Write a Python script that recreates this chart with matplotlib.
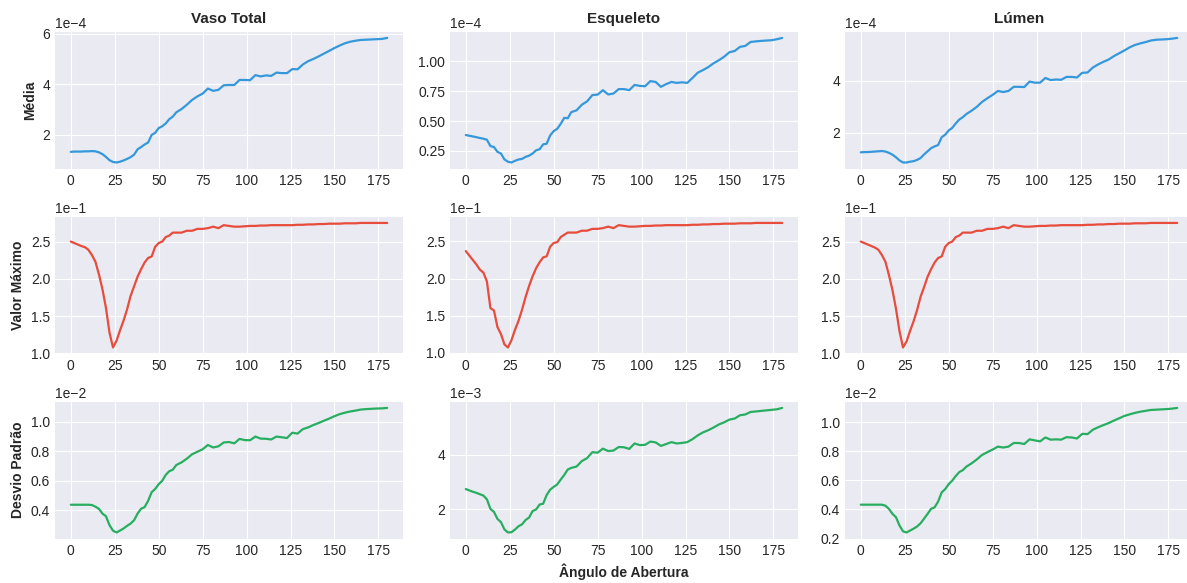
import matplotlib
matplotlib.use("Agg")
import matplotlib.pyplot as plt
from matplotlib.ticker import MaxNLocator
import numpy as np

# Opening angle grid (degrees): finer sampling where the curves dip
angles = [0, 2, 4, 6, 8, 10, 12, 14, 16, 18, 20, 22, 24, 26, 28, 30, 32, 34, 36, 38,
          40, 42, 44, 46, 48, 50, 52, 54, 56, 58,
          60, 63, 66, 69, 72, 75, 78, 81, 84, 87, 90, 93, 96, 99, 102, 105, 108, 111,
          114, 117, 120, 123, 126, 129, 132, 135, 138, 141, 144, 147, 150, 153, 156,
          159, 162, 165, 168, 171, 174, 177, 180]

# Mean (x 1e-4)
media_vaso = [1.33, 1.34, 1.34, 1.34, 1.35, 1.35, 1.36, 1.35, 1.31, 1.24, 1.13, 1.00, 0.93,
              0.91, 0.94, 0.99, 1.05, 1.12, 1.22, 1.43, 1.52, 1.62, 1.70, 2.00, 2.08, 2.27,
              2.34, 2.45, 2.62, 2.72,
              2.89, 3.02, 3.19, 3.38, 3.52, 3.63, 3.83, 3.74, 3.78, 3.96, 3.97, 3.97, 4.17,
              4.17, 4.16, 4.36, 4.31, 4.35, 4.33, 4.46, 4.44, 4.44, 4.60, 4.59, 4.78, 4.91,
              5.00, 5.10, 5.21, 5.32, 5.43, 5.53, 5.62, 5.68, 5.72, 5.75, 5.76, 5.77, 5.78,
              5.79, 5.83]
media_esqueleto = [0.383, 0.377, 0.371, 0.365, 0.358, 0.352, 0.344, 0.290, 0.283, 0.242,
                   0.228, 0.178, 0.159, 0.153, 0.167, 0.178, 0.183, 0.200, 0.210, 0.228,
                   0.255, 0.264, 0.305, 0.310, 0.380, 0.416, 0.435, 0.477, 0.527, 0.524,
                   0.575, 0.590, 0.637, 0.665, 0.718, 0.722, 0.759, 0.723, 0.731, 0.768,
                   0.768, 0.759, 0.803, 0.795, 0.792, 0.835, 0.828, 0.787, 0.810, 0.828,
                   0.820, 0.825, 0.820, 0.862, 0.906, 0.928, 0.953, 0.985, 1.010, 1.040,
                   1.077, 1.088, 1.122, 1.130, 1.163, 1.168, 1.172, 1.175, 1.178, 1.186,
                   1.197]
media_lumen = [1.24, 1.25, 1.25, 1.26, 1.27, 1.28, 1.29, 1.27, 1.22, 1.15, 1.05, 0.93, 0.85,
               0.85, 0.88, 0.90, 0.95, 1.02, 1.16, 1.28, 1.40, 1.47, 1.52, 1.82, 1.92, 2.08,
               2.18, 2.35, 2.50, 2.59,
               2.71, 2.84, 2.99, 3.18, 3.32, 3.45, 3.60, 3.56, 3.60, 3.76, 3.76, 3.75, 3.96,
               3.92, 3.92, 4.10, 4.02, 4.04, 4.03, 4.14, 4.14, 4.12, 4.30, 4.31, 4.50, 4.62,
               4.72, 4.81, 4.94, 5.05, 5.16, 5.28, 5.37, 5.43, 5.48, 5.54, 5.57, 5.58, 5.59,
               5.61, 5.64]

# Maximum value (x 1e-1)
max_vaso = [2.50, 2.48, 2.46, 2.44, 2.425, 2.39, 2.32, 2.23, 2.06, 1.86, 1.61, 1.28, 1.08,
            1.17, 1.31, 1.44, 1.59, 1.77, 1.90, 2.03, 2.13, 2.22, 2.28, 2.30, 2.43, 2.48,
            2.50, 2.56, 2.58, 2.62,
            2.62, 2.62, 2.645, 2.645, 2.67, 2.67, 2.68, 2.70, 2.68, 2.72, 2.71, 2.70, 2.70,
            2.705, 2.71, 2.71, 2.715, 2.715, 2.72, 2.72, 2.72, 2.72, 2.72, 2.725, 2.725,
            2.73, 2.73, 2.735, 2.735, 2.74, 2.74, 2.74, 2.745, 2.745, 2.745, 2.75, 2.75,
            2.75, 2.75, 2.75, 2.75]
max_esqueleto = [2.37, 2.31, 2.25, 2.19, 2.12, 2.08, 1.96, 1.60, 1.57, 1.345, 1.25, 1.11,
                 1.07, 1.17, 1.31, 1.43, 1.58, 1.75, 1.90, 2.03, 2.14, 2.22, 2.285, 2.30,
                 2.43, 2.48, 2.49, 2.56, 2.59, 2.62,
                 2.62, 2.62, 2.645, 2.645, 2.67, 2.67, 2.68, 2.70, 2.68, 2.72, 2.71, 2.70,
                 2.70, 2.705, 2.71, 2.71, 2.715, 2.715, 2.72, 2.72, 2.72, 2.72, 2.72, 2.725,
                 2.725, 2.73, 2.73, 2.735, 2.735, 2.74, 2.74, 2.74, 2.745, 2.745, 2.745,
                 2.75, 2.75, 2.75, 2.75, 2.75, 2.75]
max_lumen = [2.50, 2.48, 2.46, 2.44, 2.42, 2.39, 2.32, 2.23, 2.05, 1.85, 1.60, 1.30, 1.08,
             1.16, 1.30, 1.43, 1.58, 1.76, 1.89, 2.03, 2.13, 2.22, 2.28, 2.30, 2.43, 2.48,
             2.50, 2.56, 2.58, 2.62,
             2.62, 2.62, 2.645, 2.645, 2.67, 2.67, 2.68, 2.70, 2.68, 2.72, 2.71, 2.70, 2.70,
             2.705, 2.71, 2.71, 2.715, 2.715, 2.72, 2.72, 2.72, 2.72, 2.72, 2.725, 2.725,
             2.73, 2.73, 2.735, 2.735, 2.74, 2.74, 2.74, 2.745, 2.745, 2.745, 2.75, 2.75,
             2.75, 2.75, 2.75, 2.75]

# Standard deviation (x 1e-2 for vessel/lumen, x 1e-3 for skeleton)
desvio_vaso = [0.438, 0.438, 0.438, 0.438, 0.438, 0.438, 0.436, 0.425, 0.410, 0.378, 0.360,
               0.300, 0.262, 0.250, 0.263, 0.277, 0.295, 0.310, 0.333, 0.378, 0.411, 0.422,
               0.465, 0.523, 0.545, 0.577, 0.600, 0.640, 0.665, 0.675,
               0.707, 0.725, 0.750, 0.780, 0.797, 0.814, 0.843, 0.826, 0.834, 0.860, 0.863,
               0.854, 0.884, 0.876, 0.875, 0.900, 0.886, 0.885, 0.880, 0.900, 0.895, 0.890,
               0.926, 0.920, 0.950, 0.962, 0.978, 0.992, 1.007, 1.022, 1.038, 1.052, 1.062,
               1.070, 1.076, 1.083, 1.086, 1.088, 1.090, 1.091, 1.094]
desvio_esqueleto = [2.74, 2.69, 2.64, 2.60, 2.55, 2.50, 2.36, 2.01, 1.90, 1.64, 1.52, 1.25,
                    1.14, 1.15, 1.25, 1.37, 1.44, 1.60, 1.69, 1.93, 1.99, 2.17, 2.20, 2.52,
                    2.72, 2.82, 2.91, 3.09, 3.26, 3.46,
                    3.52, 3.57, 3.77, 3.88, 4.10, 4.08, 4.23, 4.14, 4.16, 4.29, 4.28, 4.22,
                    4.42, 4.36, 4.37, 4.49, 4.46, 4.33, 4.40, 4.47, 4.42, 4.44, 4.47, 4.58,
                    4.72, 4.83, 4.91, 5.01, 5.12, 5.20, 5.30, 5.34, 5.46, 5.49, 5.58, 5.60,
                    5.62, 5.64, 5.66, 5.68, 5.73]
desvio_lumen = [0.433, 0.433, 0.433, 0.433, 0.433, 0.433, 0.433, 0.426, 0.404, 0.370, 0.347,
                0.290, 0.250, 0.242, 0.255, 0.268, 0.283, 0.305, 0.337, 0.370, 0.405, 0.415,
                0.455, 0.517, 0.540, 0.574, 0.598, 0.630, 0.657, 0.670,
                0.694, 0.717, 0.744, 0.775, 0.794, 0.812, 0.832, 0.826, 0.832, 0.857, 0.857,
                0.850, 0.882, 0.875, 0.868, 0.895, 0.880, 0.882, 0.880, 0.897, 0.895, 0.888,
                0.920, 0.918, 0.948, 0.965, 0.980, 0.994, 1.011, 1.027, 1.043, 1.054, 1.064,
                1.072, 1.078, 1.084, 1.086, 1.088, 1.090, 1.093, 1.098]

structures = ["Vaso Total", "Esqueleto", "Lúmen"]
metrics = ["Média", "Valor Máximo", "Desvio Padrão"]
series = [
    [(media_vaso, 1e-4), (media_esqueleto, 1e-4), (media_lumen, 1e-4)],
    [(max_vaso, 1e-1), (max_esqueleto, 1e-1), (max_lumen, 1e-1)],
    [(desvio_vaso, 1e-2), (desvio_esqueleto, 1e-3), (desvio_lumen, 1e-2)],
]
colors = ["#3498db", "#e74c3c", "#27ae60"]

plt.style.use("seaborn-v0_8-darkgrid")
plt.rcParams["font.family"] = ["Liberation Sans", "DejaVu Sans"]

W, H = 1187, 583
fig = plt.figure(figsize=(W / 100, H / 100), dpi=100)

# Panel grid in pixels: column lefts, row tops, panel size
col_left = [55, 450, 845]
row_top = [31.7, 216.7, 401.7]
pw, ph = 348, 137

axes = np.empty((3, 3), dtype=object)
for r in range(3):
    for c in range(3):
        axes[r, c] = fig.add_axes([col_left[c] / W, 1 - (row_top[r] + ph) / H, pw / W, ph / H])

for r in range(3):
    for c in range(3):
        ax = axes[r, c]
        vals, scale = series[r][c]
        ax.plot(angles, np.asarray(vals) * scale, color=colors[r], linewidth=1.6)
        ax.yaxis.set_major_locator(MaxNLocator(nbins=5, steps=[1, 2, 2.5, 5, 10]))
        ax.ticklabel_format(axis="y", style="sci", scilimits=(0, 0))
        ax.set_xticks([0, 25, 50, 75, 100, 125, 150, 175])
        ax.tick_params(labelsize=10)
        ax.yaxis.get_offset_text().set_fontsize(10)
        if r == 0:
            ax.set_title(structures[c], fontweight="bold", fontsize=11)
        if c == 0:
            ax.set_ylabel(metrics[r], fontweight="bold", fontsize=10)

axes[2, 1].set_xlabel("Ângulo de Abertura", fontweight="bold", fontsize=10)

fig.savefig("out.png", dpi=100)
